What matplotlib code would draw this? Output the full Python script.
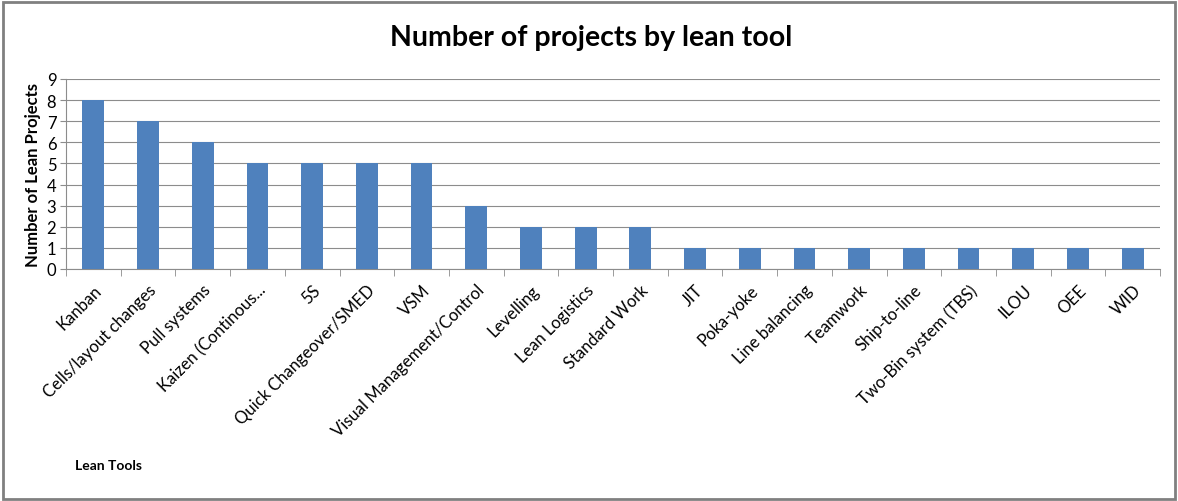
import matplotlib
matplotlib.use("Agg")
import matplotlib.pyplot as plt
from matplotlib.patches import Rectangle
import numpy as np

plt.rcParams['font.family'] = ['Lato', 'DejaVu Sans']

tools = ['Kanban', 'Cells/layout changes', 'Pull systems', 'Kaizen (Continous...', '5S',
         'Quick Changeover/SMED', 'VSM', 'Visual Management/Control', 'Levelling',
         'Lean Logistics', 'Standard Work', 'JIT', 'Poka-yoke', 'Line balancing',
         'Teamwork', 'Ship-to-line', 'Two-Bin system (TBS)', 'ILOU', 'OEE', 'WID']
projects = [8, 7, 6, 5, 5, 5, 5, 3, 2, 2, 2, 1, 1, 1, 1, 1, 1, 1, 1, 1]

fig = plt.figure(figsize=(11.78, 5.02), dpi=100)
ax = fig.add_axes([66/1178, 1 - 270/502, (1160-66)/1178, (270-80)/502])

x = np.arange(len(tools))
ax.bar(x, projects, width=0.4, color='#4F81BD', zorder=3)
ax.set_xlim(-0.5, len(tools) - 0.5)
ax.set_ylim(0, 9)
ax.set_yticks(range(10))
ax.yaxis.grid(True, color='#8c8c8c', linewidth=0.8, zorder=0)
ax.tick_params(axis='y', labelsize=12, length=4, color='#8c8c8c', pad=3)

ax.set_xticks(x)
ax.set_xticklabels(tools, rotation=45, ha='right', rotation_mode='anchor', fontsize=12)
ax.tick_params(axis='x', length=0, pad=9)
ax.set_xticks(np.arange(-0.5, len(tools)), minor=True)
ax.tick_params(axis='x', which='minor', length=5, color='#8c8c8c')

for s in ['top', 'right']:
    ax.spines[s].set_visible(False)
for s in ['left', 'bottom']:
    ax.spines[s].set_color('#8c8c8c')

ax.set_ylabel('Number of Lean Projects', fontsize=12, fontweight='bold', labelpad=4)
fig.text(75/1178, 1 - 466/502, 'Lean Tools', fontsize=10, fontweight='bold', va='center', ha='left')
fig.text(591/1178, 1 - 38/502, 'Number of projects by lean tool', fontsize=20.5, fontweight='bold',
         ha='center', va='center')

fig.patches.append(Rectangle((3/1178, 2/502), 1172/1178, 497/502, transform=fig.transFigure,
                             fill=False, edgecolor='#808080', linewidth=2))

fig.savefig('out.png', dpi=100)
